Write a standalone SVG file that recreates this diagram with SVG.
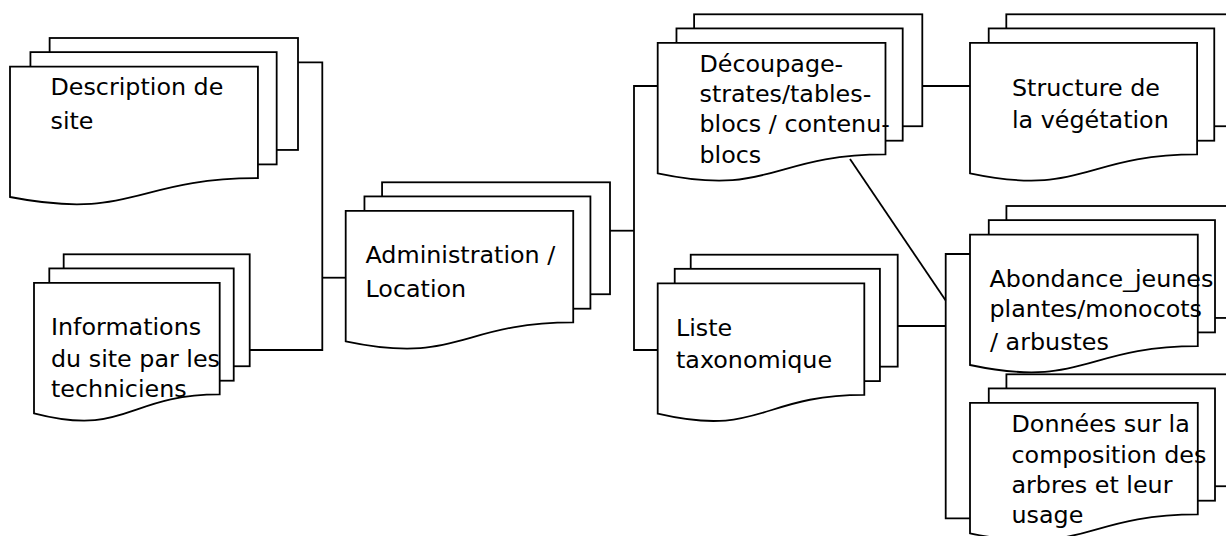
<svg xmlns="http://www.w3.org/2000/svg" width="1226" height="536" viewBox="0 0 1226 536">
  <style>
    .doc { fill: #ffffff; stroke: #000000; stroke-width: 1.8; stroke-linejoin: miter; }
    .wire { fill: none; stroke: #000000; stroke-width: 1.8; }
    .lbl { font-family: "DejaVu Sans", "Liberation Sans", sans-serif; font-size: 23.8px; fill: #000000; }
  </style>
  <rect x="0" y="0" width="1226" height="536" fill="#ffffff"/>

  <!-- connectors -->
  <g id="connectors" class="wire">
    <path d="M298,62.3 H322.3 V350 H249.7"/>
    <path d="M322.3,277.7 H345.7"/>
    <path d="M610,230.7 H634"/>
    <path d="M657.7,86 H634 V350 H657.7"/>
    <path d="M922.3,86 H970"/>
    <path d="M850,159 L945.7,300.5"/>
    <path d="M897.7,326 H945.7"/>
    <path d="M970,254 H945.7 V518.3 H970"/>
  </g>

  <!-- stacked document nodes: back sheet, middle sheet, front sheet with wavy bottom -->
  <g id="description-site">
    <rect class="doc" x="49.63" y="38" width="248.37" height="111.94"/>
    <rect class="doc" x="30.43" y="52.12" width="246.24" height="112.28"/>
    <path class="doc" d="M10,197 C133.97,221.1 133.97,178.17 257.93,178.17 V66.58 H10 Z"/>
    <text class="lbl"><tspan x="50.5" y="95">Description de</tspan><tspan x="50.5" y="129">site</tspan></text>
  </g>

  <g id="informations-site">
    <rect class="doc" x="63.68" y="254.3" width="186.02" height="111.94"/>
    <rect class="doc" x="49.3" y="268.42" width="184.42" height="112.28"/>
    <path class="doc" d="M34,413.3 C126.85,437.4 126.85,394.47 219.69,394.47 V282.88 H34 Z"/>
    <text class="lbl"><tspan x="51" y="335">Informations</tspan><tspan x="51" y="366.7">du site par les</tspan><tspan x="51" y="396.7">techniciens</tspan></text>
  </g>

  <g id="administration">
    <rect class="doc" x="382.07" y="182.3" width="227.93" height="111.94"/>
    <rect class="doc" x="364.45" y="196.42" width="225.97" height="112.28"/>
    <path class="doc" d="M345.7,341.3 C459.47,365.4 459.47,322.47 573.23,322.47 V210.88 H345.7 Z"/>
    <text class="lbl"><tspan x="365.5" y="262.7">Administration /</tspan><tspan x="365.5" y="296.7">Location</tspan></text>
  </g>

  <g id="decoupage">
    <rect class="doc" x="694.11" y="14.3" width="228.19" height="111.94"/>
    <rect class="doc" x="676.47" y="28.42" width="226.23" height="112.28"/>
    <path class="doc" d="M657.7,173.3 C771.6,197.4 771.6,154.47 885.49,154.47 V42.88 H657.7 Z"/>
    <text class="lbl"><tspan x="699.5" y="71.7">Découpage-</tspan><tspan x="699.5" y="101.7">strates/tables-</tspan><tspan x="699.5" y="131.7">blocs / contenu-</tspan><tspan x="699.5" y="162.7">blocs</tspan></text>
  </g>

  <g id="structure-vegetation">
    <rect class="doc" x="1006.3" y="14.3" width="227.5" height="111.94"/>
    <rect class="doc" x="988.71" y="28.42" width="225.55" height="112.28"/>
    <path class="doc" d="M970,173.3 C1083.56,197.4 1083.56,154.47 1197.1,154.47 V42.88 H970 Z"/>
    <text class="lbl"><tspan x="1012" y="95.7">Structure de</tspan><tspan x="1012" y="128.3">la végétation</tspan></text>
  </g>

  <g id="liste-taxonomique">
    <rect class="doc" x="690.72" y="254.7" width="206.98" height="111.94"/>
    <rect class="doc" x="674.72" y="268.82" width="205.2" height="112.28"/>
    <path class="doc" d="M657.7,413.7 C761.01,437.8 761.01,394.87 864.31,394.87 V283.28 H657.7 Z"/>
    <text class="lbl"><tspan x="676" y="336">Liste</tspan><tspan x="676" y="368.3">taxonomique</tspan></text>
  </g>

  <g id="abondance">
    <rect class="doc" x="1006.41" y="206" width="228.19" height="111.94"/>
    <rect class="doc" x="988.77" y="220.12" width="226.23" height="112.28"/>
    <path class="doc" d="M970,365 C1083.9,389.1 1083.9,346.17 1197.79,346.17 V234.58 H970 Z"/>
    <text class="lbl"><tspan x="989.5" y="287.3">Abondance_jeunes</tspan><tspan x="989.5" y="316.7">plantes/monocots</tspan><tspan x="990" y="350">/ arbustes</tspan></text>
  </g>

  <g id="donnees-arbres">
    <rect class="doc" x="1006.41" y="374.3" width="228.19" height="111.94"/>
    <rect class="doc" x="988.77" y="388.42" width="226.23" height="112.28"/>
    <path class="doc" d="M970,533.3 C1083.9,557.4 1083.9,514.47 1197.79,514.47 V402.88 H970 Z"/>
    <text class="lbl"><tspan x="1011.5" y="432.3">Données sur la</tspan><tspan x="1011.5" y="462.7">composition des</tspan><tspan x="1011.5" y="493.3">arbres et leur</tspan><tspan x="1011.5" y="523.3">usage</tspan></text>
  </g>
</svg>
